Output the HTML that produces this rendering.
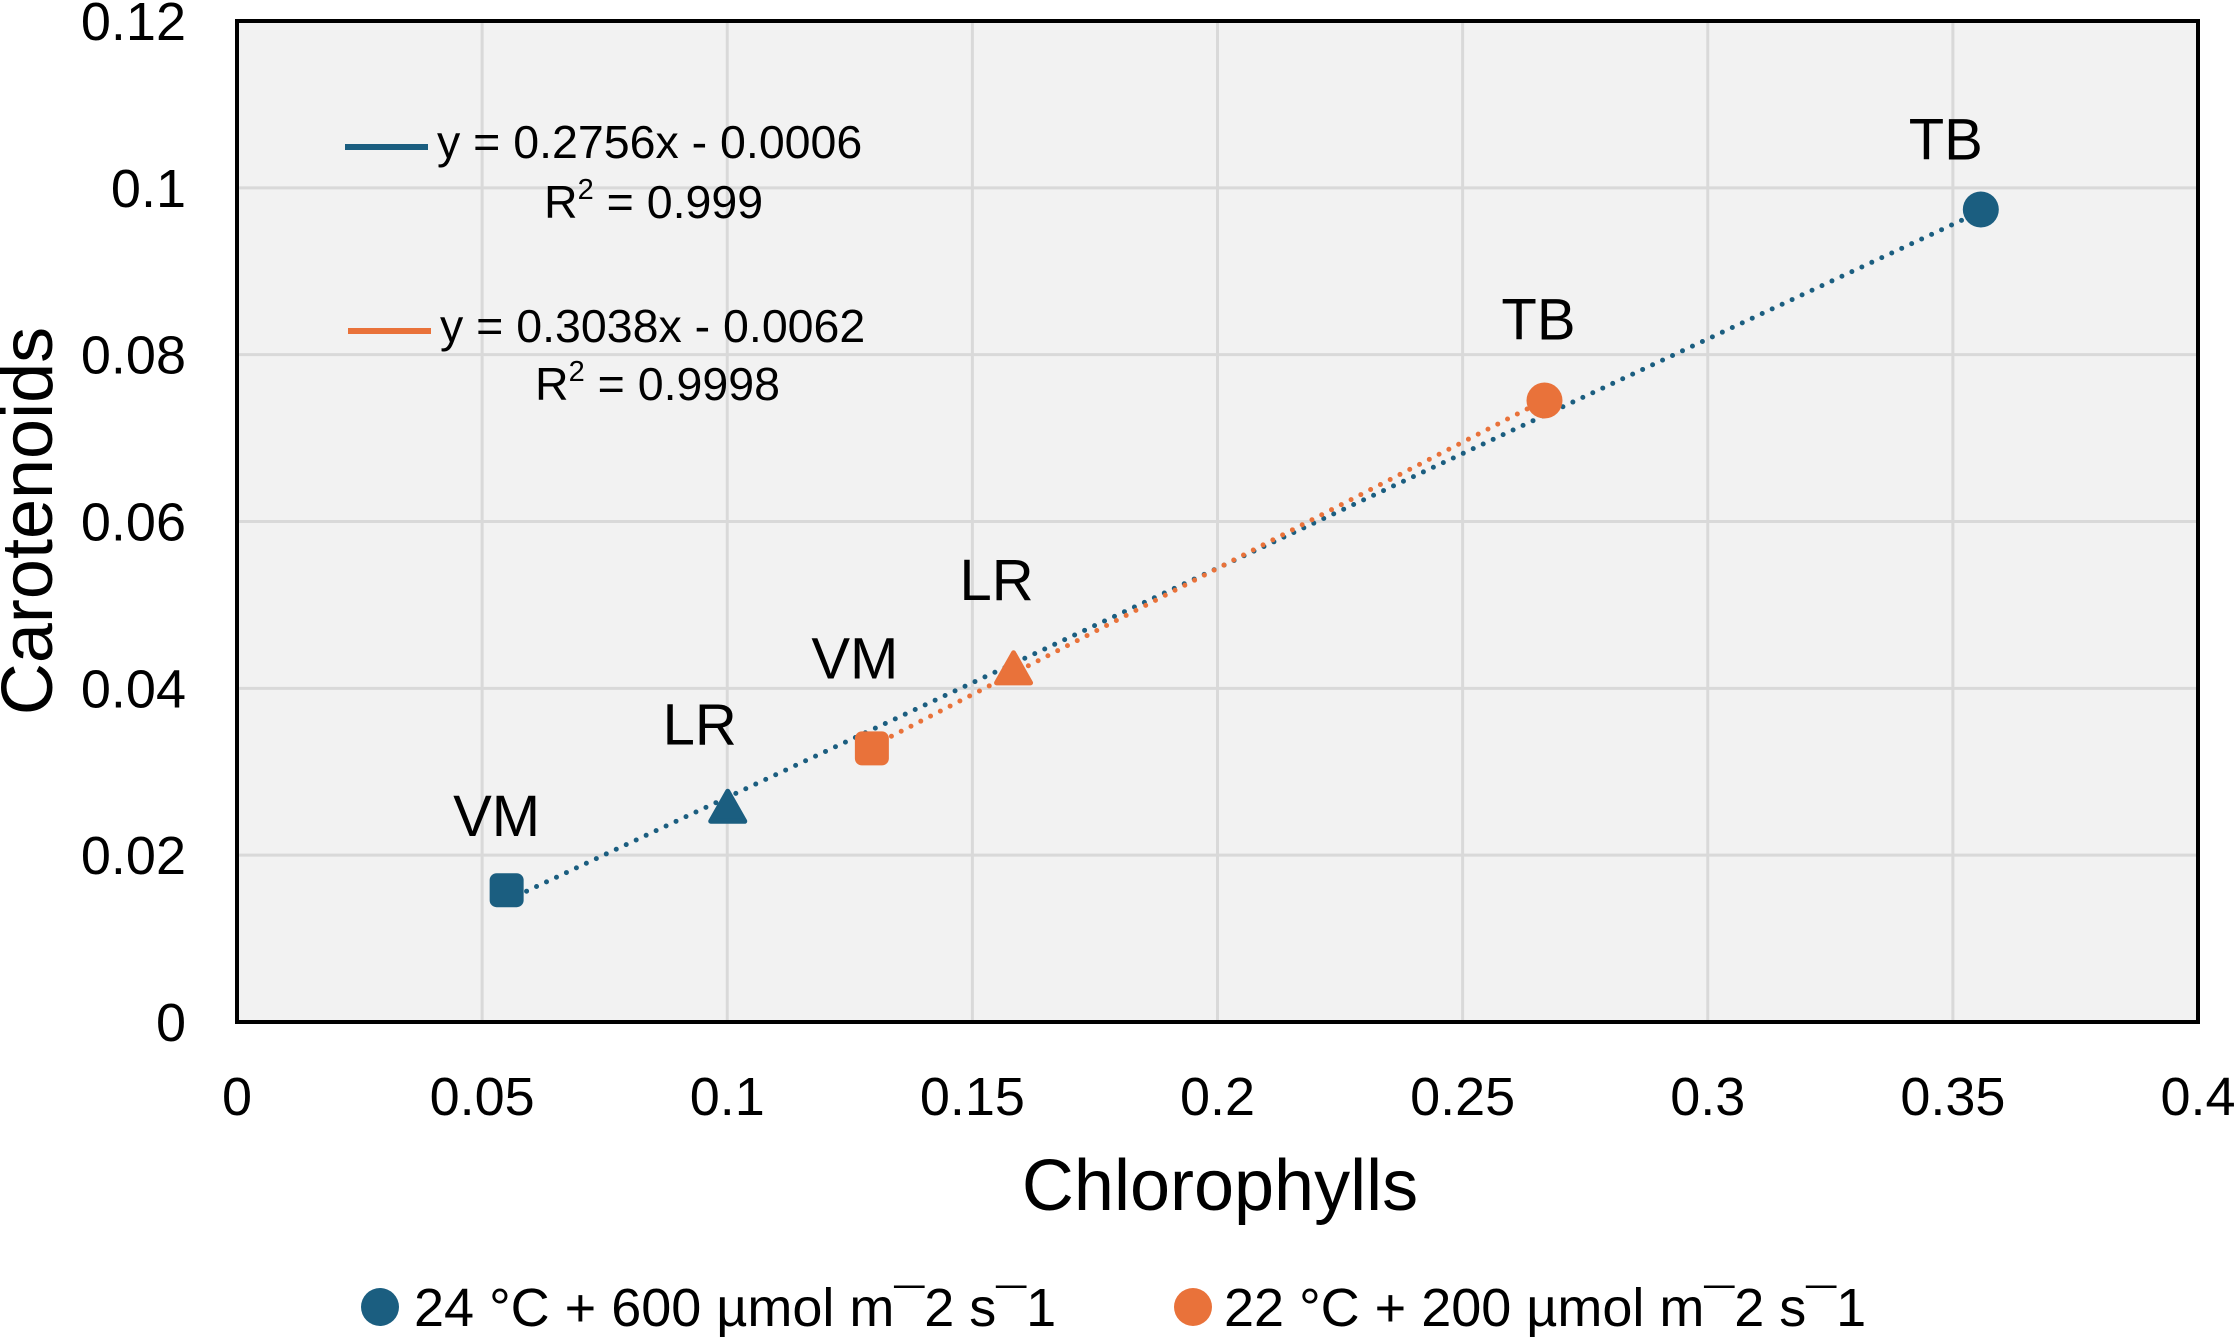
<!DOCTYPE html>
<html><head><meta charset="utf-8"><style>
html,body{margin:0;padding:0;background:#fff}
svg{display:block;font-family:"Liberation Sans",sans-serif}
</style></head><body>
<svg id="c" width="2237" height="1337" viewBox="0 0 2237 1337"></svg>
<script>
const xTicks=[0,0.05,0.1,0.15,0.2,0.25,0.3,0.35,0.4];
const xTickLabels=["0","0.05","0.1","0.15","0.2","0.25","0.3","0.35","0.4"];
const yTicks=[0,0.02,0.04,0.06,0.08,0.1,0.12];
const yTickLabels=["0","0.02","0.04","0.06","0.08","0.1","0.12"];
const categories=["VM","LR","TB"];
const blueX=[0.055,0.1001,0.3557];
const blueY=[0.0158,0.0255,0.0974];
const orangeX=[0.1295,0.1584,0.2667];
const orangeY=[0.0328,0.0421,0.0745];
const seriesNames=["24 °C + 600 µmol m¯2 s¯1","22 °C + 200 µmol m¯2 s¯1"];
const eqBlue=["y = 0.2756x - 0.0006","0.999"];
const eqOrange=["y = 0.3038x - 0.0062","0.9998"];

const L=237,R=2198,T=21,B=1022;
const X=v=>L+(v-0)/(0.4-0)*(R-L);
const Y=v=>B-(v-0)/(0.12-0)*(B-T);
const NS="http://www.w3.org/2000/svg";
const svg=document.getElementById('c');
function mk(tag,attrs,parent){const e=document.createElementNS(NS,tag);for(const k in attrs)e.setAttribute(k,attrs[k]);(parent||svg).appendChild(e);return e;}
const BLUE="#1b5e80",ORANGE="#e9723a";

let bg=mk('rect',{x:L,y:T,width:R-L,height:B-T,fill:'#f2f2f2'});


xTicks.forEach((v,i)=>{
  if(i>0&&i<xTicks.length-1){let g=mk('line',{x1:X(v),x2:X(v),y1:T,y2:B,stroke:'#d9d9d9','stroke-width':3});
  
  }
  let t=mk('text',{x:X(v),y:1115,'text-anchor':'middle','font-size':54,fill:'#000'});t.textContent=xTickLabels[i];
  
  
});
yTicks.forEach((v,i)=>{
  if(i>0&&i<yTicks.length-1){let g=mk('line',{x1:L,x2:R,y1:Y(v),y2:Y(v),stroke:'#d9d9d9','stroke-width':3});
  
  }
  let t=mk('text',{x:186,y:Y(v)+19,'text-anchor':'end','font-size':54,fill:'#000'});t.textContent=yTickLabels[i];
  
  
});
let bd=mk('rect',{x:L,y:T,width:R-L,height:B-T,fill:'none',stroke:'#000','stroke-width':4});



function fit(xs,ys){const n=xs.length;const mx=xs.reduce((a,b)=>a+b)/n,my=ys.reduce((a,b)=>a+b)/n;let sxy=0,sxx=0;xs.forEach((x,i)=>{sxy+=(x-mx)*(ys[i]-my);sxx+=(x-mx)*(x-mx);});const m=sxy/sxx;return [m,my-m*mx];}
function trend(xs,ys,col,name){const [m,b]=fit(xs,ys);const x0=Math.min(...xs),x1=Math.max(...xs);
  let l=mk('line',{x1:X(x0),y1:Y(m*x0+b),x2:X(x1),y2:Y(m*x1+b),stroke:col,'stroke-width':5,'stroke-dasharray':'0 11','stroke-linecap':'round'});
  
  }
trend(blueX,blueY,BLUE,'trendline-blue');
trend(orangeX,orangeY,ORANGE,'trendline-orange');

function marker(i,x,y,col){const cx=X(x),cy=Y(y);let e;
  if(i===0)e=mk('rect',{x:cx-17,y:cy-17,width:34,height:34,rx:7,fill:col});
  else if(i===1)e=mk('path',{d:`M${cx},${cy-18} L${cx+17},${cy+12} L${cx-17},${cy+12} Z`,fill:col,stroke:col,'stroke-width':5,'stroke-linejoin':'round'});
  else e=mk('circle',{cx:cx,cy:cy,r:18,fill:col});
  return e;}
const blueLabOff=[[-10,-75],[-28,-86],[-35,-71]];
const orangeLabOff=[[-17,-91],[-17,-92],[-6,-82]];
blueX.forEach((x,i)=>{let m=marker(i,x,blueY[i],BLUE);
  
  
  let t=mk('text',{x:X(x)+blueLabOff[i][0],y:Y(blueY[i])+blueLabOff[i][1]+21,'text-anchor':'middle','font-size':58});t.textContent=categories[i];
  
  });
orangeX.forEach((x,i)=>{let m=marker(i,x,orangeY[i],ORANGE);
  
  
  let t=mk('text',{x:X(x)+orangeLabOff[i][0],y:Y(orangeY[i])+orangeLabOff[i][1]+21,'text-anchor':'middle','font-size':58});t.textContent=categories[i];
  
  });

function eq(y,xl,xt,xr,ry,eqs,col,name){
  let l=mk('line',{x1:xl,x2:xl+83,y1:y+6,y2:y+6,stroke:col,'stroke-width':6});
  
  
  let t=mk('text',{x:xt,y:y+17,'font-size':46.5});t.textContent=eqs[0];
  
  
  let r=mk('text',{x:xr,y:ry+17,'font-size':46.5});
  r.innerHTML='R<tspan font-size="29" dy="-19">2</tspan><tspan dy="19"> = '+eqs[1]+'</tspan>';
  
  }
eq(141,345,437,544,201,eqBlue,BLUE,'equation-blue');
eq(325,348,440,535,383,eqOrange,ORANGE,'equation-orange');

let xt=mk('text',{x:1220,y:1210,'text-anchor':'middle','font-size':72});xt.textContent='Chlorophylls';


let yt=mk('text',{x:0,y:0,'text-anchor':'middle','font-size':72,transform:'translate(52,521) rotate(-90)'});yt.textContent='Carotenoids';



[[380,414,BLUE],[1193,1224,ORANGE]].forEach((p,i)=>{
  let c=mk('circle',{cx:p[0],cy:1307,r:19,fill:p[2]});
  
  
  let t=mk('text',{x:p[1],y:1326,'font-size':54});t.textContent=seriesNames[i];
  
  });
</script>
</body></html>
